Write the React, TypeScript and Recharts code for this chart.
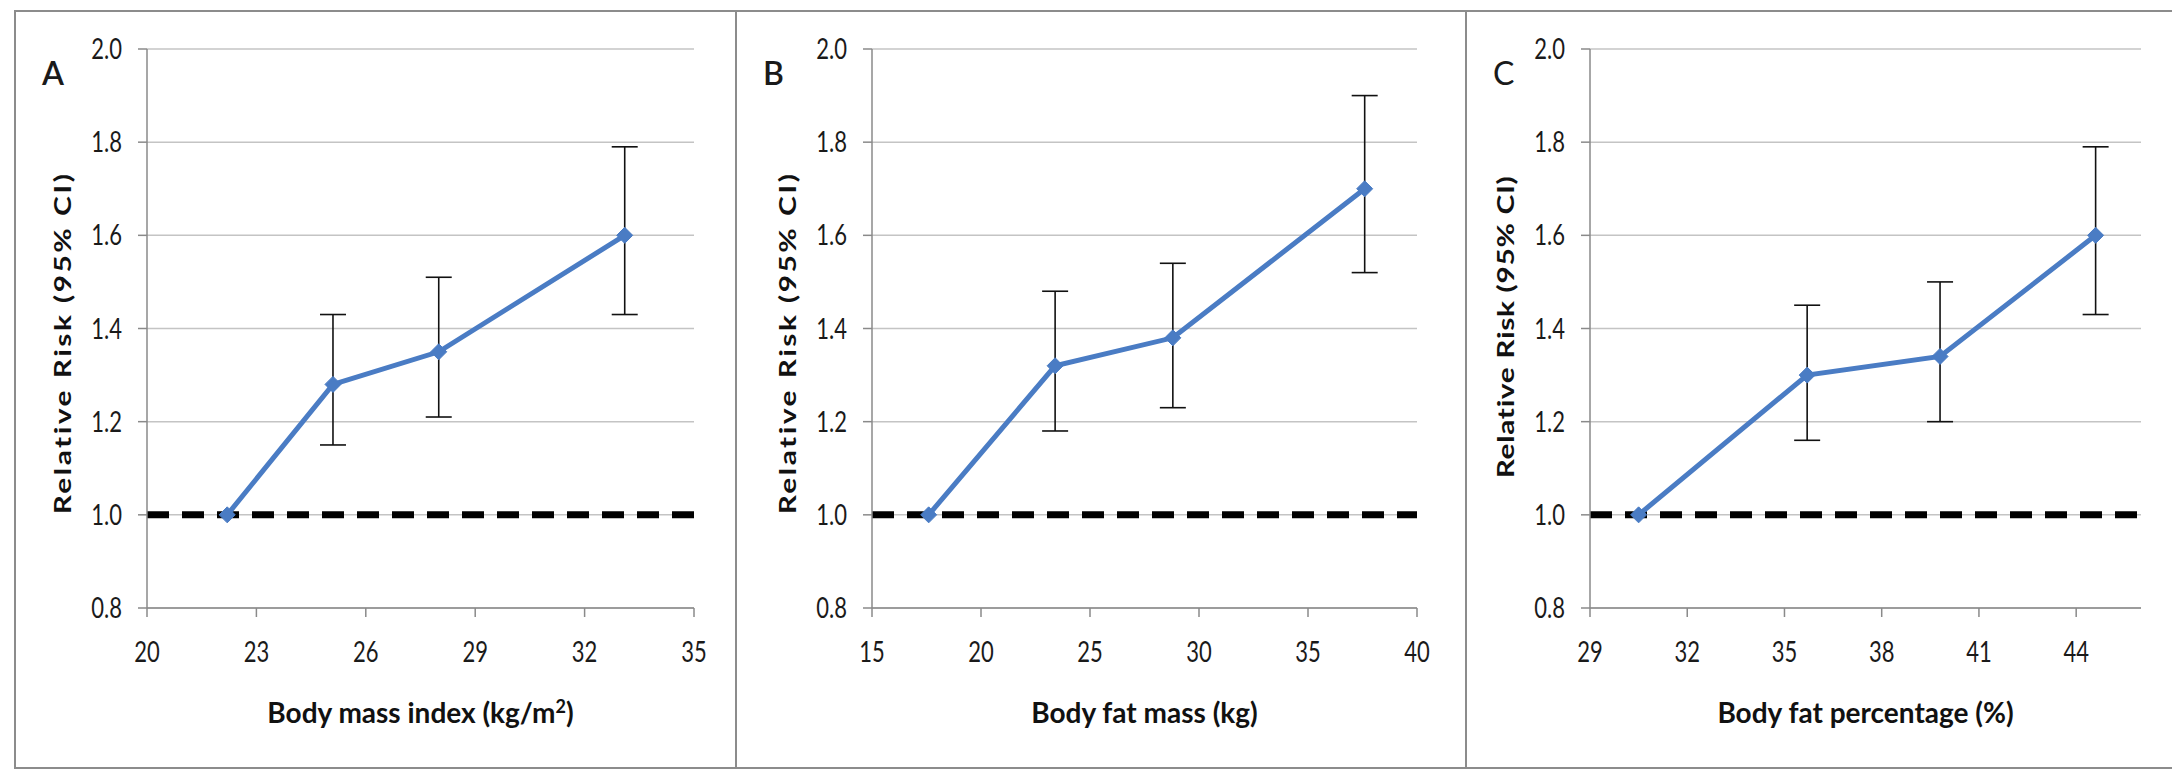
import { LineChart, Line, XAxis, YAxis, CartesianGrid, ReferenceLine, ErrorBar } from 'recharts';

// Panel A: body mass index
const bmiX = [22.2, 25.1, 28.0, 33.1];
const bmiRR = [1.0, 1.28, 1.35, 1.6];
const bmiLow = [null, 1.15, 1.21, 1.43];
const bmiHigh = [null, 1.43, 1.51, 1.79];
const bmiTicks = [20, 23, 26, 29, 32, 35];

// Panel B: body fat mass
const fatMassX = [17.6, 23.4, 28.8, 37.6];
const fatMassRR = [1.0, 1.32, 1.38, 1.7];
const fatMassLow = [null, 1.18, 1.23, 1.52];
const fatMassHigh = [null, 1.48, 1.54, 1.9];
const fatMassTicks = [15, 20, 25, 30, 35, 40];

// Panel C: body fat percentage
const fatPctX = [30.5, 35.7, 39.8, 44.6];
const fatPctRR = [1.0, 1.3, 1.34, 1.6];
const fatPctLow = [null, 1.16, 1.2, 1.43];
const fatPctHigh = [null, 1.45, 1.5, 1.79];
const fatPctTicks = [29, 32, 35, 38, 41, 44];

const rrTicks = [0.8, 1.0, 1.2, 1.4, 1.6, 1.8, 2.0];

const FONT = 'Lato, "Open Sans", sans-serif';
const BLUE = '#4a7cc4';
const AXIS = '#8a8a8a';
const STRETCH = 1.3; // the source figure text is tall and narrow

const buildRows = (xs: number[], rr: number[], lo: (number | null)[], hi: (number | null)[]) =>
  xs.map((x, i) => ({
    x,
    rr: rr[i],
    err: lo[i] == null || hi[i] == null ? undefined : [rr[i] - (lo[i] as number), (hi[i] as number) - rr[i]],
  }));

const Diamond = (props: any) => {
  const { cx, cy, index } = props;
  if (cx == null || cy == null) return <g key={index} />;
  const r = 8;
  return (
    <polygon
      key={index}
      points={`${cx},${cy - r} ${cx + r},${cy} ${cx},${cy + r} ${cx - r},${cy}`}
      fill={BLUE}
      stroke={BLUE}
    />
  );
};

const XTick = (props: any) => {
  const { x, y, payload } = props;
  return (
    <g transform={`translate(${x},${y}) scale(1,${STRETCH})`}>
      <text textAnchor="middle" dy="0.71em" fill="#1a1a1a" fontSize={22} fontFamily={FONT}>
        {payload.value}
      </text>
    </g>
  );
};

const YTick = (props: any) => {
  const { x, y, payload } = props;
  return (
    <g transform={`translate(${x},${y}) scale(1,${STRETCH})`}>
      <text textAnchor="end" dy="0.355em" fill="#1a1a1a" fontSize={22} fontFamily={FONT}>
        {Number(payload.value).toFixed(1)}
      </text>
    </g>
  );
};

type PanelProps = {
  letter: string;
  letterBold: boolean;
  box: { left: number; top: number; width: number; height: number };
  plot: { left: number; right: number; top: number; bottom: number };
  rows: any[];
  domain: [number, number];
  ticks: number[];
  xTitle: React.ReactNode;
  yTitleCenter: number;
  yTitleSpacing: number;
};

const Panel = ({ letter, letterBold, box, plot, rows, domain, ticks, xTitle, yTitleCenter, yTitleSpacing }: PanelProps) => {
  const yAxisWidth = 60;
  const xAxisHeight = 60;
  const margin = {
    top: plot.top - box.top,
    left: plot.left - box.left - yAxisWidth,
    right: box.left + box.width - plot.right,
    bottom: box.top + box.height - plot.bottom - xAxisHeight,
  };
  const plotCenterX = (plot.left + plot.right) / 2;
  return (
    <>
      <div
        style={{
          position: 'absolute',
          left: box.left,
          top: box.top,
          width: box.width,
          height: box.height,
          border: '2px solid #8c8c8c',
          boxSizing: 'border-box',
        }}
      />
      <div style={{ position: 'absolute', left: box.left, top: box.top }}>
        <LineChart width={box.width} height={box.height} data={rows} margin={margin}>
          <CartesianGrid vertical={false} stroke="#c4c4c4" strokeWidth={1.5} />
          <XAxis
            type="number"
            dataKey="x"
            domain={domain}
            ticks={ticks}
            allowDataOverflow
            height={xAxisHeight}
            stroke={AXIS}
            strokeWidth={1.5}
            tickSize={9}
            tickMargin={25}
            tick={<XTick />}
          />
          <YAxis
            type="number"
            domain={[0.8, 2.0]}
            ticks={rrTicks}
            width={yAxisWidth}
            stroke={AXIS}
            strokeWidth={1.5}
            tickSize={9}
            tickMargin={16}
            tick={<YTick />}
          />
          <ReferenceLine y={1} stroke="#000" strokeWidth={7} strokeDasharray="22 13" />
          <Line
            type="linear"
            dataKey="rr"
            stroke={BLUE}
            strokeWidth={5}
            dot={Diamond}
            activeDot={false}
            isAnimationActive={false}
          >
            <ErrorBar dataKey="err" direction="y" width={13} stroke="#111" strokeWidth={1.6} isAnimationActive={false} />
          </Line>
        </LineChart>
      </div>
      <div
        style={{
          position: 'absolute',
          left: box.left + 28,
          top: 57,
          fontFamily: FONT,
          fontSize: 32,
          fontWeight: letterBold ? 600 : 400,
          color: '#1a1a1a',
          lineHeight: '32px',
        }}
      >
        {letter}
      </div>
      <div style={{ position: 'absolute', left: plot.left - 85, top: yTitleCenter, width: 0, height: 0 }}>
        <div
          style={{
            position: 'absolute',
            left: 0,
            top: 0,
            transform: `translate(-50%, -50%) rotate(-90deg) scaleX(${STRETCH})`,
            whiteSpace: 'nowrap',
            fontFamily: FONT,
            fontSize: 23,
            fontWeight: 700,
            letterSpacing: yTitleSpacing,
            color: '#111',
          }}
        >
          Relative Risk (95% CI)
        </div>
      </div>
      <div
        style={{
          position: 'absolute',
          left: plotCenterX - 250,
          width: 500,
          top: 695,
          textAlign: 'center',
          fontFamily: FONT,
          fontSize: 28,
          fontWeight: 700,
          color: '#111',
          lineHeight: '34px',
        }}
      >
        {xTitle}
      </div>
    </>
  );
};

const App = () => {
  return (
    <div style={{ position: 'absolute', left: 0, top: 0, width: 2172, height: 771, background: '#fff', overflow: 'hidden' }}>
      <Panel
        letter="A"
        letterBold
        box={{ left: 14, top: 10, width: 723, height: 759 }}
        plot={{ left: 147, right: 694, top: 49, bottom: 608 }}
        rows={buildRows(bmiX, bmiRR, bmiLow, bmiHigh)}
        domain={[20, 35]}
        ticks={bmiTicks}
        xTitle={
          <span>
            Body mass index (kg/m<sup style={{ fontSize: 18, lineHeight: 0 }}>2</sup>)
          </span>
        }
        yTitleCenter={343}
        yTitleSpacing={1.9}
      />
      <Panel
        letter="B"
        letterBold
        box={{ left: 735, top: 10, width: 732, height: 759 }}
        plot={{ left: 872, right: 1417, top: 49, bottom: 608 }}
        rows={buildRows(fatMassX, fatMassRR, fatMassLow, fatMassHigh)}
        domain={[15, 40]}
        ticks={fatMassTicks}
        xTitle="Body fat mass (kg)"
        yTitleCenter={343}
        yTitleSpacing={1.9}
      />
      <Panel
        letter="C"
        letterBold={false}
        box={{ left: 1465, top: 10, width: 720, height: 759 }}
        plot={{ left: 1590, right: 2141, top: 49, bottom: 608 }}
        rows={buildRows(fatPctX, fatPctRR, fatPctLow, fatPctHigh)}
        domain={[29, 46]}
        ticks={fatPctTicks}
        xTitle="Body fat percentage (%)"
        yTitleCenter={327}
        yTitleSpacing={0.5}
      />
    </div>
  );
};

export default App;
